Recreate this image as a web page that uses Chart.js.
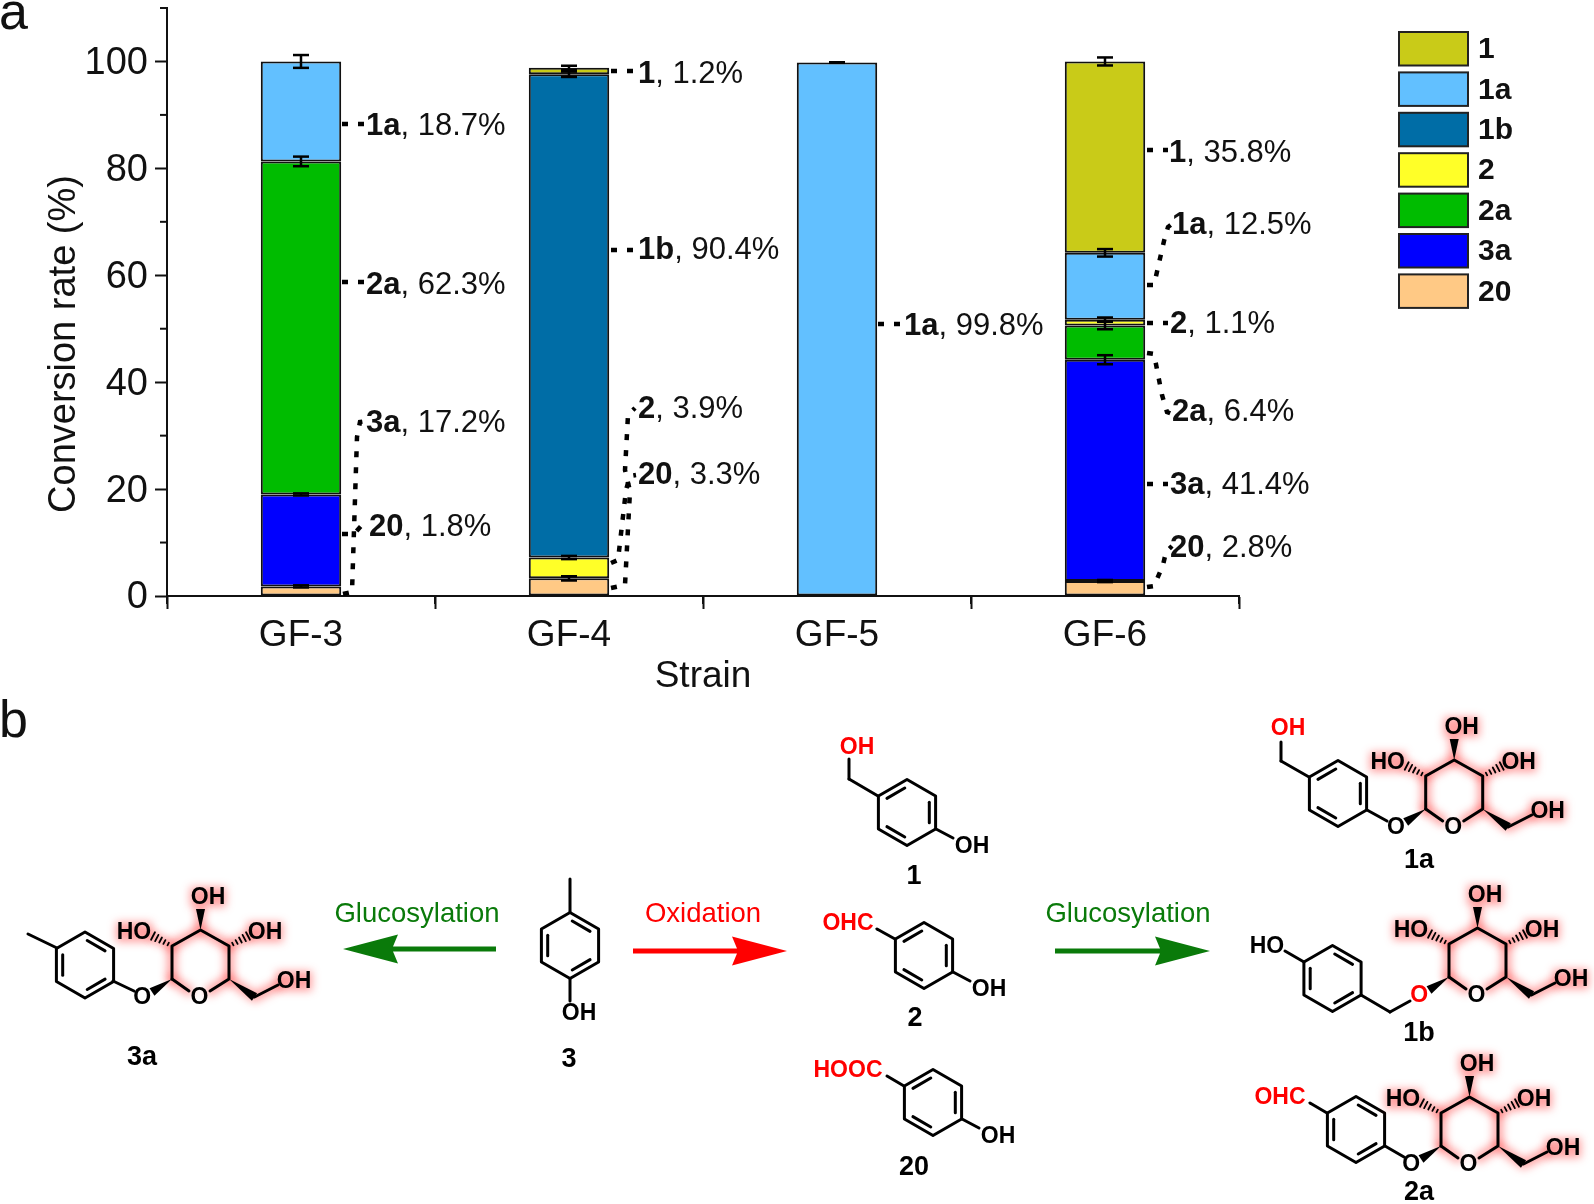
<!DOCTYPE html>
<html>
<head>
<meta charset="utf-8">
<title>Conversion rate</title>
<script src="https://cdn.jsdelivr.net/npm/chart.js@4"></script>
<style>
  html, body { margin: 0; padding: 0; background: #fff; }
  canvas { display: block; }
</style>
</head>
<body>
<canvas id="myChart" width="1594" height="1204"></canvas>
<script>
const strains = ['GF-3', 'GF-4', 'GF-5', 'GF-6'];

// stacked from the bottom up
const seriesNames = ['20', '3a', '2a', '2', '1b', '1a', '1'];
const val20 = [1.8, 3.3, null, 2.8];
const val3a = [17.2, null, null, 41.4];
const val2a = [62.3, null, null, 6.4];
const val2  = [null, 3.9, null, 1.1];
const val1b = [null, 90.4, null, null];
const val1a = [18.7, null, 99.8, 12.5];
const val1  = [null, 1.2, null, 35.8];

const err20 = [0.2, 0.4, null, 0.2];
const err3a = [0.2, null, null, 0.85];
const err2a = [0.9, null, null, 0.7];
const err2  = [null, 0.3, null, 0.4];
const err1b = [null, 0.5, null, null];
const err1a = [1.2, null, 0.05, 0.7];
const err1  = [null, 0.4, null, 0.75];

const seriesColors = ['#FFC985', '#0000FF', '#00BC00', '#FFFF28', '#006DA6', '#62C0FF', '#C9CB18'];

const allValues = [val20, val3a, val2a, val2, val1b, val1a, val1];
const allErrors = [err20, err3a, err2a, err2, err1b, err1a, err1];

// where the text beside each bar goes, and the dotted line leading to it
const callouts = [
  { s: 5, c: 0, x: 366, y: 126, path: [[342, 124], [365, 124]] },
  { s: 2, c: 0, x: 366, y: 285, path: [[342, 282], [365, 282]] },
  { s: 1, c: 0, x: 366, y: 423, path: [[343, 594], [352, 592], [357, 437], [360, 422], [366, 421]] },
  { s: 0, c: 0, x: 369, y: 527, path: [[342, 534], [354, 534], [362, 525], [368, 524]] },
  { s: 6, c: 1, x: 638, y: 74, path: [[611, 71], [636, 71]] },
  { s: 4, c: 1, x: 638, y: 250, path: [[611, 250], [636, 250]] },
  { s: 3, c: 1, x: 638, y: 409, path: [[611, 588], [625, 585], [630, 491], [625, 470], [628, 415], [635, 408]] },
  { s: 0, c: 1, x: 638, y: 475, path: [[611, 563], [618, 560], [626, 490], [630, 476], [636, 475]] },
  { s: 5, c: 2, x: 904, y: 326, path: [[878, 324], [902, 324]] },
  { s: 6, c: 3, x: 1169, y: 153, path: [[1147, 150], [1168, 150]] },
  { s: 5, c: 3, x: 1172, y: 225, path: [[1147, 285], [1154, 285], [1164, 241], [1168, 227], [1172, 224]] },
  { s: 3, c: 3, x: 1170, y: 324, path: [[1147, 323], [1168, 323]] },
  { s: 2, c: 3, x: 1172, y: 412, path: [[1147, 353], [1154, 354], [1162, 395], [1167, 412], [1172, 414]] },
  { s: 1, c: 3, x: 1170, y: 485, path: [[1147, 484], [1168, 484]] },
  { s: 0, c: 3, x: 1170, y: 548, path: [[1147, 587], [1154, 586], [1163, 565], [1166, 552], [1172, 546]] }
];

Chart.defaults.font.family = '"Liberation Sans", Arial, sans-serif';
Chart.defaults.color = '#111';

function bond(c, x1, y1, x2, y2) {
  c.beginPath();
  c.moveTo(x1, y1);
  c.lineTo(x2, y2);
  c.stroke();
}

function atom(c, text, x, y, color, size, weight) {
  c.fillStyle = color || '#000';
  c.font = (weight || 'bold') + ' ' + (size || 23) + 'px "Liberation Sans", Arial, sans-serif';
  c.textAlign = 'center';
  c.textBaseline = 'middle';
  c.fillText(text, x, y + 1);
}

// benzene ring, kind A = inner bonds top left / right / bottom left, B = the mirror
function ring(c, cx, cy, kind) {
  var dx = 28.6, r = 33;
  var p = [[cx, cy - r], [cx + dx, cy - r / 2], [cx + dx, cy + r / 2], [cx, cy + r], [cx - dx, cy + r / 2], [cx - dx, cy - r / 2]];
  c.beginPath();
  p.forEach(function (q, i) { i ? c.lineTo(q[0], q[1]) : c.moveTo(q[0], q[1]); });
  c.closePath();
  c.stroke();
  var inner = kind == 'A' ? [[5, 0], [1, 2], [3, 4]] : [[0, 1], [2, 3], [4, 5]];
  inner.forEach(function (e) {
    var a = p[e[0]], b = p[e[1]];
    var ax = a[0] + (cx - a[0]) * 0.22, ay = a[1] + (cy - a[1]) * 0.22;
    var bx = b[0] + (cx - b[0]) * 0.22, by = b[1] + (cy - b[1]) * 0.22;
    bond(c, ax + (bx - ax) * 0.1, ay + (by - ay) * 0.1, bx - (bx - ax) * 0.1, by - (by - ay) * 0.1);
  });
}

function wedge(c, x1, y1, x2, y2) {
  var l = Math.hypot(x2 - x1, y2 - y1), nx = -(y2 - y1) / l * 4.5, ny = (x2 - x1) / l * 4.5;
  c.beginPath();
  c.moveTo(x1, y1);
  c.lineTo(x2 + nx, y2 + ny);
  c.lineTo(x2 - nx, y2 - ny);
  c.closePath();
  c.fill();
}

function hash(c, x1, y1, x2, y2) {
  var l = Math.hypot(x2 - x1, y2 - y1), nx = -(y2 - y1) / l, ny = (x2 - x1) / l;
  var keep = c.lineWidth;
  c.lineWidth = 1.8;
  for (var i = 1; i <= 5; i++) {
    var t = i / 5, w = 0.8 + t * 3.4;
    var mx = x1 + (x2 - x1) * t, my = y1 + (y2 - y1) * t;
    bond(c, mx - nx * w, my - ny * w, mx + nx * w, my + ny * w);
  }
  c.lineWidth = keep;
}

// glucose unit, (x, y) is the anomeric carbon
function sugar(c, x, y, oColor) {
  var skeleton = [[[x, y], [x, y - 33], [x + 28.5, y - 49], [x + 57, y - 33], [x + 57, y], [x + 38, y + 12]],
                  [[x + 17, y + 12], [x, y]],
                  [[x + 57, y], [x + 82.5, y + 18], [x + 106, y + 6]],
                  [[x + 28.5, y - 49], [x + 28.5, y - 70]],
                  [[x, y - 33], [x - 20, y - 43]],
                  [[x + 57, y - 33], [x + 77, y - 43]]];
  var boxes = [[x + 36, y - 82, 36, 20], [x - 38, y - 47, 36, 20], [x + 93, y - 47, 36, 20], [x + 122, y + 2, 36, 20]];

  c.save();
  c.filter = 'blur(4px)';
  c.strokeStyle = 'rgba(255,50,50,0.45)';
  c.fillStyle = 'rgba(255,50,50,0.45)';
  c.lineWidth = 10;
  skeleton.forEach(function (line) {
    c.beginPath();
    line.forEach(function (q, i) { i ? c.lineTo(q[0], q[1]) : c.moveTo(q[0], q[1]); });
    c.stroke();
  });
  boxes.forEach(function (b) { c.fillRect(b[0] - b[2] / 2, b[1] - b[3] / 2, b[2], b[3]); });
  c.restore();

  c.strokeStyle = '#000';
  c.fillStyle = '#000';
  c.lineWidth = 3;
  skeleton.slice(0, 2).forEach(function (line) {
    c.beginPath();
    line.forEach(function (q, i) { i ? c.lineTo(q[0], q[1]) : c.moveTo(q[0], q[1]); });
    c.stroke();
  });
  wedge(c, x + 57, y, x + 82.5, y + 18);
  bond(c, x + 82.5, y + 18, x + 106, y + 6);
  wedge(c, x + 28.5, y - 49, x + 28.5, y - 70);
  hash(c, x, y - 33, x - 19, y - 43);
  hash(c, x + 57, y - 33, x + 76, y - 43);
  wedge(c, x, y, x - 20, y + 13);

  atom(c, 'O', x + 27.5, y + 18);
  atom(c, 'OH', x + 36, y - 82);
  atom(c, 'HO', x - 38, y - 47);
  atom(c, 'OH', x + 93, y - 47);
  atom(c, 'OH', x + 122, y + 2);
  atom(c, 'O', x - 29.7, y + 18, oColor);
}

function arrow(c, x1, x2, y, color) {
  var dir = x2 > x1 ? 1 : -1;
  c.fillStyle = color;
  c.beginPath();
  c.moveTo(x2, y);
  c.lineTo(x2 - dir * 55, y - 14.5);
  c.lineTo(x2 - dir * 50, y - 2.5);
  c.lineTo(x1, y - 2.5);
  c.lineTo(x1, y + 2.5);
  c.lineTo(x2 - dir * 50, y + 2.5);
  c.lineTo(x2 - dir * 55, y + 14.5);
  c.closePath();
  c.fill();
}

function drawScheme(c) {
  c.save();
  c.strokeStyle = '#000';
  c.lineWidth = 3;
  c.lineCap = 'round';
  c.lineJoin = 'round';

  // 3a
  ring(c, 85, 965, 'B');
  bond(c, 57, 948, 28, 934);
  bond(c, 113, 981, 134, 991);
  sugar(c, 172, 979);
  atom(c, '3a', 142, 1057, '#000', 27);

  // 3
  ring(c, 570, 945.5, 'B');
  bond(c, 570, 912, 570, 879);
  bond(c, 570, 979, 570, 1001);
  atom(c, 'OH', 579, 1013);
  atom(c, '3', 569, 1059, '#000', 27);

  // 1
  ring(c, 907, 812.5, 'A');
  bond(c, 878, 796, 849, 779);
  bond(c, 849, 779, 849, 759);
  bond(c, 936, 829, 953, 838);
  atom(c, 'OH', 857, 747, '#f00');
  atom(c, 'OH', 972, 846);
  atom(c, '1', 914, 876, '#000', 27);

  // 2
  ring(c, 924, 955.5, 'A');
  bond(c, 895, 939, 877, 929);
  bond(c, 953, 972, 970, 981);
  atom(c, 'OHC', 848, 923, '#f00');
  atom(c, 'OH', 989, 989);
  atom(c, '2', 915, 1018, '#000', 27);

  // 20
  ring(c, 933, 1102.5, 'A');
  bond(c, 904, 1086, 887, 1076);
  bond(c, 962, 1119, 979, 1128);
  atom(c, 'HOOC', 848, 1070, '#f00');
  atom(c, 'OH', 998, 1136);
  atom(c, '20', 914, 1167, '#000', 27);

  // 1a
  ring(c, 1338, 793.5, 'A');
  bond(c, 1309, 777, 1281, 761);
  bond(c, 1281, 761, 1281, 742);
  bond(c, 1367, 810, 1387, 821);
  sugar(c, 1425.7, 809);
  atom(c, 'OH', 1288, 728, '#f00');
  atom(c, '1a', 1419, 860, '#000', 27);

  // 1b
  ring(c, 1332.5, 978.5, 'B');
  bond(c, 1304, 962, 1285, 951);
  bond(c, 1361, 995, 1390, 1012);
  bond(c, 1390, 1012, 1410, 1001);
  atom(c, 'HO', 1267, 946);
  sugar(c, 1449, 977, '#f00');
  atom(c, '1b', 1419, 1033, '#000', 27);

  // 2a
  ring(c, 1356, 1129.5, 'B');
  bond(c, 1327, 1113, 1310, 1103);
  bond(c, 1385, 1146, 1404, 1157);
  atom(c, 'OHC', 1280, 1097, '#f00');
  sugar(c, 1441, 1146);
  atom(c, '2a', 1419, 1192, '#000', 27);
  c.restore();

  arrow(c, 496, 343, 949, '#0A7A0A');
  arrow(c, 633, 787, 951, '#FF0000');
  arrow(c, 1055, 1210, 951, '#0A7A0A');
  atom(c, 'Glucosylation', 417, 913, '#0A7A0A', 27.5, 'normal');
  atom(c, 'Oxidation', 703, 913, '#FF0000', 27.5, 'normal');
  atom(c, 'Glucosylation', 1128, 913, '#0A7A0A', 27.5, 'normal');
}

const extras = {
  id: 'extras',
  afterDatasetsDraw: function (chart) {
    var c = chart.ctx, xs = chart.scales.x, ys = chart.scales.y;
    c.save();

    // minor ticks
    c.strokeStyle = '#111';
    c.lineWidth = 2;
    for (var v = 10; v <= 110; v += 20) {
      var py = ys.getPixelForValue(v);
      bond(c, ys.right, py, ys.right - 7, py);
    }
    var step = xs.getPixelForValue(1) - xs.getPixelForValue(0);
    for (var i = 0; i < strains.length + 1; i++) {
      var px = xs.getPixelForValue(0) + (i - 0.5) * step;
      bond(c, px, xs.top, px, xs.top + 8);
    }

    // error bars on top of every segment
    var perUnit = ys.getPixelForValue(0) - ys.getPixelForValue(1);
    c.strokeStyle = '#000';
    c.lineWidth = 2.5;
    allErrors.forEach(function (errs, s) {
      var bars = chart.getDatasetMeta(s).data;
      errs.forEach(function (e, k) {
        if (e == null) return;
        var x = bars[k].x, y = bars[k].y, d = e * perUnit;
        bond(c, x, y - d, x, y + d);
        bond(c, x - 8, y - d, x + 8, y - d);
        bond(c, x - 8, y + d, x + 8, y + d);
      });
    });

    // dotted leaders and their text
    callouts.forEach(function (o) {
      c.strokeStyle = '#000';
      c.lineWidth = 4.5;
      c.setLineDash([6, 10]);
      c.beginPath();
      o.path.forEach(function (q, i) { i ? c.lineTo(q[0], q[1]) : c.moveTo(q[0], q[1]); });
      c.stroke();
      c.setLineDash([]);

      var name = seriesNames[o.s];
      var rest = ', ' + allValues[o.s][o.c] + '%';
      c.fillStyle = '#111';
      c.textAlign = 'left';
      c.textBaseline = 'middle';
      c.font = 'bold 31px "Liberation Sans", Arial, sans-serif';
      c.fillText(name, o.x, o.y);
      var w = c.measureText(name).width;
      c.font = '31px "Liberation Sans", Arial, sans-serif';
      c.fillText(rest, o.x + w, o.y);
    });

    // y title sits lower than the middle of the axis
    c.save();
    c.translate(65, 344);
    c.rotate(-Math.PI / 2);
    c.fillStyle = '#111';
    c.textAlign = 'center';
    c.textBaseline = 'middle';
    c.font = '38px "Liberation Sans", Arial, sans-serif';
    c.fillText('Conversion rate (%)', 0, 0);
    c.restore();

    // legend, top entry is the last series
    var top = 32;
    for (var n = seriesNames.length - 1; n >= 0; n--) {
      c.fillStyle = seriesColors[n];
      c.strokeStyle = '#222';
      c.lineWidth = 2;
      c.fillRect(1399, top, 69, 33.5);
      c.strokeRect(1399, top, 69, 33.5);
      c.fillStyle = '#111';
      c.textAlign = 'left';
      c.textBaseline = 'middle';
      c.font = 'bold 30px "Liberation Sans", Arial, sans-serif';
      c.fillText(seriesNames[n], 1478, top + 18);
      top += 40.4;
    }

    // panel letters
    c.fillStyle = '#111';
    c.textAlign = 'left';
    c.textBaseline = 'alphabetic';
    c.font = '52px "Liberation Sans", Arial, sans-serif';
    c.fillText('a', -1, 29);
    c.fillText('b', -1, 737);
    c.restore();

    drawScheme(c);
  }
};

const ctx = document.getElementById('myChart');
const grafico = new Chart(ctx, {
  type: 'bar',
  data: {
    labels: strains,
    datasets: seriesNames.map(function (name, i) {
      return {
        label: name,
        data: allValues[i],
        backgroundColor: seriesColors[i],
        borderColor: '#111',
        borderWidth: 2,
        borderSkipped: false
      };
    })
  },
  options: {
    responsive: false,
    animation: false,
    devicePixelRatio: 1,
    layout: { padding: { left: 0, top: 8, right: 355, bottom: 505 } },
    datasets: { bar: { categoryPercentage: 1, barPercentage: 0.3 } },
    plugins: { legend: { display: false }, tooltip: { enabled: false } },
    scales: {
      x: {
        stacked: true,
        afterFit: function (scale) { scale.height = 103; },
        border: { color: '#111', width: 2 },
        grid: { drawOnChartArea: false, drawTicks: true, tickLength: 13, tickColor: '#111', tickWidth: 2 },
        ticks: { color: '#111', font: { size: 37 }, padding: 5, maxRotation: 0 },
        title: { display: true, text: 'Strain', color: '#111', font: { size: 37 }, padding: 0 }
      },
      y: {
        stacked: true,
        min: 0,
        max: 110,
        afterFit: function (scale) { scale.width = 167; scale.paddingTop = 0; scale.paddingBottom = 0; },
        border: { color: '#111', width: 2 },
        grid: {
          drawOnChartArea: false,
          drawTicks: true,
          tickLength: 12,
          tickWidth: 2,
          tickColor: function (t) { return t.tick.value % 20 == 0 && t.tick.value <= 100 ? '#111' : 'rgba(0,0,0,0)'; }
        },
        ticks: {
          stepSize: 10,
          autoSkip: false,
          color: '#111',
          font: { size: 38 },
          padding: 7,
          labelOffset: 2,
          callback: function (v) { return v % 20 == 0 && v <= 100 ? v : ''; }
        }
      }
    }
  },
  plugins: [extras]
});
</script>
</body>
</html>
